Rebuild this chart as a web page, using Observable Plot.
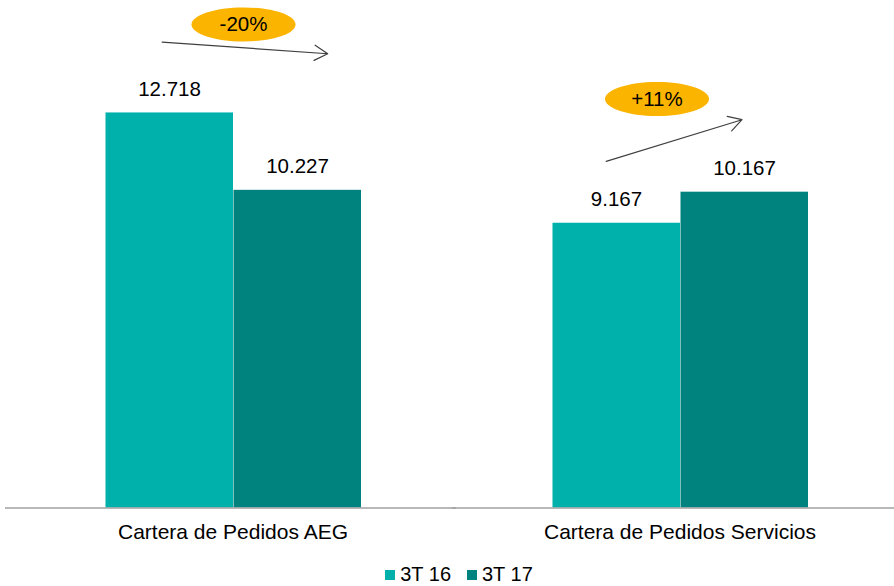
<!DOCTYPE html>
<html>
<head>
<meta charset="utf-8">
<script src="https://cdn.jsdelivr.net/npm/d3@7"></script>
<script src="https://cdn.jsdelivr.net/npm/@observablehq/plot@0.6"></script>
<style>
  html, body { margin: 0; padding: 0; background: #fff; overflow: hidden; }
  #legend { display: flex; justify-content: center; align-items: center; gap: 16px;
    font-family: "Liberation Sans", Arial, sans-serif; font-size: 20px; color: #000;
    margin-top: 7px; width: 894px; padding-left: 24px; box-sizing: border-box; }
  #legend span.item { display: inline-flex; align-items: center; }
  #legend span.sw { display: inline-block; width: 10px; height: 10px; margin-right: 5px; }
</style>
</head>
<body>
<div id="chart"></div>
<div id="legend"></div>
<script>
// ---- data ----
const categories = ["Cartera de Pedidos AEG", "Cartera de Pedidos Servicios"];
const series = ["3T 16", "3T 17"];
const values3T16 = [12718, 9167];
const values3T17 = [10227, 10167];
const changeLabels = ["-20%", "+11%"];
// annotation anchors (data units)
const bubbleValue = [15568, 13169];
const arrowStartValue = [14982, 11260];
const arrowEndValue = [14692, 12525];

const colors = ["#00B0AA", "#00827E"];

const rows = [];
categories.forEach((c, i) => {
  rows.push({cat: c, series: series[0], value: values3T16[i]});
  rows.push({cat: c, series: series[1], value: values3T17[i]});
});

const fmt = d3.formatLocale({decimal: ",", thousands: ".", grouping: [3], currency: ["", "€"]}).format(",d");

// ellipse symbol
function ellipseSymbol(rx, ry) {
  const k = 0.5523;
  return {
    draw(ctx) {
      ctx.moveTo(rx, 0);
      ctx.bezierCurveTo(rx, ry * k, rx * k, ry, 0, ry);
      ctx.bezierCurveTo(-rx * k, ry, -rx, ry * k, -rx, 0);
      ctx.bezierCurveTo(-rx, -ry * k, -rx * k, -ry, 0, -ry);
      ctx.bezierCurveTo(rx * k, -ry, rx, -ry * k, rx, 0);
      ctx.closePath();
    }
  };
}

const bubbleDx = [10.5, -23];
const arrowInsetStart = [-7.3, -10.8];
const arrowInsetEnd = [-30.3, 2.6];

const annotationMarks = [];
categories.forEach((c, i) => {
  const a = [{cat: c, label: changeLabels[i], b: bubbleValue[i], y1: arrowStartValue[i], y2: arrowEndValue[i]}];
  annotationMarks.push(
    Plot.arrow(a, {fx: "cat", x1: () => series[0], x2: () => series[1], y1: "y1", y2: "y2",
      stroke: "#404040", strokeWidth: 1.2, headLength: 19, headAngle: 60,
      insetStart: arrowInsetStart[i], insetEnd: arrowInsetEnd[i]}),
    Plot.dot(a, {fx: "cat", y: "b", dx: bubbleDx[i], symbol: ellipseSymbol(52, 17), r: 10,
      fill: "#FBB400", stroke: "none"}),
    Plot.text(a, {fx: "cat", y: "b", dx: bubbleDx[i], text: "label", fontSize: 20.5, fill: "#000"})
  );
});

const chart = Plot.plot({
  width: 903,
  height: 556,
  marginLeft: 9,
  marginRight: 0,
  marginTop: 10.5,
  marginBottom: 48.5,
  style: {fontFamily: "Liberation Sans, Arial, sans-serif", fontSize: "21px", color: "#000", maxWidth: "none", overflow: "visible"},
  fx: {domain: categories, padding: 0, label: null, axis: "bottom", tickSize: 0, tickPadding: 16},
  x: {domain: series, paddingInner: 0, paddingOuter: 0.745, axis: null},
  y: {domain: [0, 16000], axis: null},
  color: {domain: series, range: colors},
  marks: [
    Plot.barY(rows, {fx: "cat", x: "series", y: "value", fill: "series", insetLeft: 0.5, insetRight: 0}),
    Plot.ruleY([0], {stroke: "#a0a0a0", strokeWidth: 1.5, insetLeft: -4}),
    Plot.text(rows, {fx: "cat", x: "series", y: "value", text: d => fmt(d.value), dy: -24, fontSize: 20.5, fill: "#000"}),
    ...annotationMarks
  ]
});
document.getElementById("chart").appendChild(chart);

const legend = document.getElementById("legend");
series.forEach((s, i) => {
  const item = document.createElement("span");
  item.className = "item";
  const sw = document.createElement("span");
  sw.className = "sw";
  sw.style.background = colors[i];
  item.appendChild(sw);
  item.appendChild(document.createTextNode(s));
  legend.appendChild(item);
});
</script>
</body>
</html>
